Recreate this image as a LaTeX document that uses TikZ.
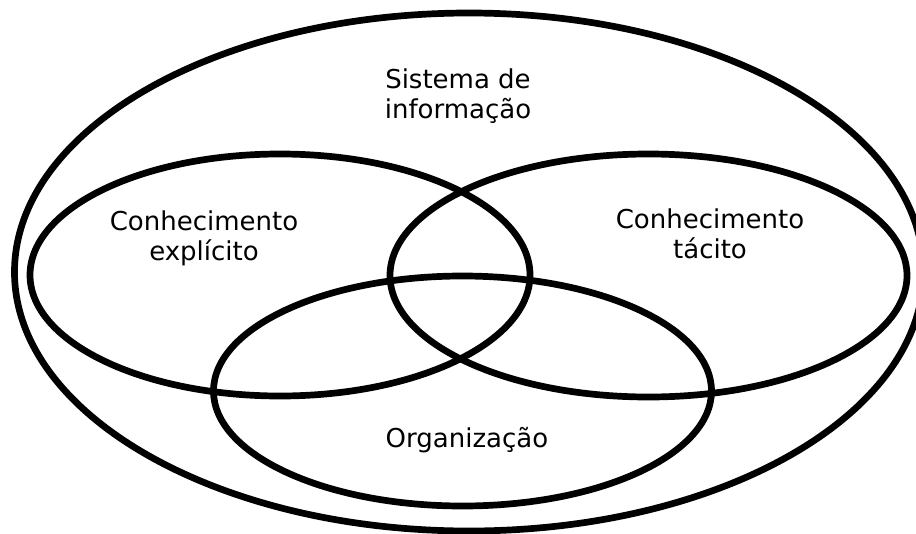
\documentclass[tikz,border=0pt]{standalone}
\usepackage{fontspec}
\setmainfont{DejaVu Sans}
\usetikzlibrary{shapes.geometric}
\begin{document}
\begin{tikzpicture}[x=1pt,y=-1pt,
  ring/.style={draw=black, line width=6.7pt, ellipse, inner sep=0pt, outer sep=0pt},
  lbl/.style={align=center, inner sep=0pt, font=\fontsize{26}{30}\selectfont}]
\useasboundingbox (0,0) rectangle (916,533);
\node[ring, minimum width=909pt, minimum height=518pt] (sys) at (469,272) {};
\node[ring, minimum width=500pt, minimum height=242pt] (expl) at (280,275) {};
\node[ring, minimum width=517pt, minimum height=243pt] (tac) at (648.5,275.5) {};
\node[ring, minimum width=498pt, minimum height=230pt] (org) at (462.5,391) {};
\node[lbl] (tsys) at (458,96) {Sistema de\\informação};
\node[lbl] (texpl) at (204,238) {Conhecimento\\explícito};
\node[lbl] (ttac) at (710,234) {Conhecimento\\tácito};
\node[lbl] (torg) at (467,440) {Organização};
\end{tikzpicture}
\end{document}
